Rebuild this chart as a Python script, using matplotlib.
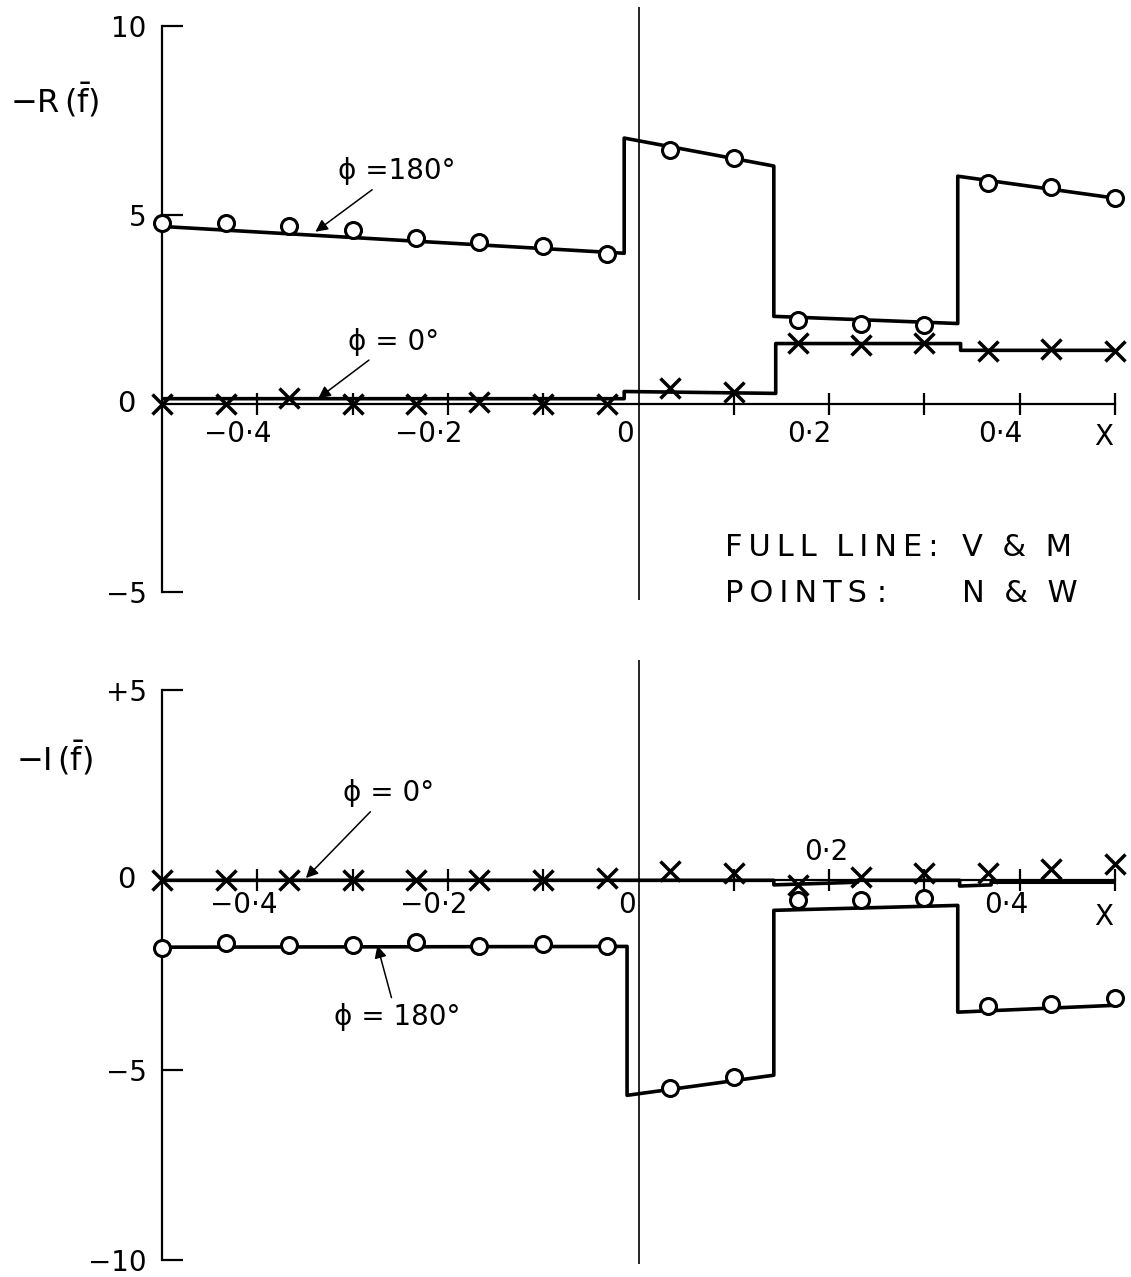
import matplotlib
matplotlib.use("Agg")
import matplotlib.pyplot as plt

plt.rcParams['font.family'] = ['DejaVu Sans']
plt.rcParams['mathtext.fontset'] = 'dejavusans'

# ---------------- data ----------------
x_pts = [-0.5, -0.433, -0.367, -0.3, -0.233, -0.167, -0.1, -0.033,
         0.033, 0.1, 0.167, 0.233, 0.3, 0.367, 0.433, 0.5]

# top panel: -R(f)
R180_pts = [4.77, 4.77, 4.69, 4.59, 4.38, 4.27, 4.16, 3.95,
            6.71, 6.50, 2.20, 2.10, 2.07, 5.84, 5.73, 5.44]
R0_pts = [0.0, 0.0, 0.15, 0.0, 0.0, 0.05, 0.0, 0.0,
          0.40, 0.30, 1.60, 1.55, 1.60, 1.40, 1.45, 1.40]
R180_line_x = [-0.5, -0.015, -0.015, 0.142, 0.142, 0.335, 0.335, 0.5]
R180_line_y = [4.69, 3.98, 7.03, 6.29, 2.31, 2.12, 6.02, 5.44]
R0_line_x = [-0.5, -0.015, -0.015, 0.144, 0.144, 0.338, 0.338, 0.5]
R0_line_y = [0.13, 0.13, 0.32, 0.27, 1.59, 1.59, 1.41, 1.41]

# bottom panel: -I(f)
I180_pts = [-1.79, -1.66, -1.71, -1.71, -1.63, -1.74, -1.68, -1.74,
            -5.47, -5.18, -0.53, -0.53, -0.47, -3.32, -3.26, -3.11]
I0_pts = [0.0, 0.0, 0.0, 0.0, 0.0, 0.0, 0.0, 0.05,
          0.24, 0.18, -0.13, 0.10, 0.18, 0.18, 0.29, 0.42]
I180_line_x = [-0.5, -0.012, -0.012, 0.142, 0.142, 0.335, 0.335, 0.5]
I180_line_y = [-1.76, -1.74, -5.66, -5.13, -0.79, -0.66, -3.47, -3.29]
I0_line_x = [-0.5, 0.142, 0.142, 0.23, 0.23, 0.337, 0.337, 0.37, 0.37, 0.5]
I0_line_y = [0.0, 0.0, -0.12, -0.05, 0.0, 0.0, -0.15, -0.12, -0.05, -0.05]

x_minor_ticks = [-0.4, -0.3, -0.2, -0.1, 0.1, 0.2, 0.3, 0.4, 0.5]
x_tick_labels = {-0.4: "\u22120\u00b74", -0.2: "\u22120\u00b72", 0.0: "0",
                 0.2: "0\u00b72", 0.4: "0\u00b74"}
top_yticks = [-5, 5, 10]
top_ylabels = ["\u22125", "5", "10"]
bot_yticks = [-10, -5, 5]
bot_ylabels = ["\u221210", "\u22125", "+5"]

# --------------- figure ---------------
W, H = 1131, 1277
fig = plt.figure(figsize=(W / 100, H / 100), dpi=100)
fig.patch.set_facecolor('white')

FS = 20
LW = 2.6
circ = dict(marker='o', markersize=11.5, markerfacecolor='white',
            markeredgecolor='black', markeredgewidth=2.2, linestyle='none',
            zorder=4, clip_on=False)
cross = dict(marker='x', markersize=14, markeredgecolor='black',
             markeredgewidth=2.5, linestyle='none', zorder=4, clip_on=False)
arrow = dict(arrowstyle='-|>', color='black', lw=1.1, mutation_scale=18,
             shrinkA=2, shrinkB=0)


def spaced(s):
    return "\u200a\u200a".join(s)


def setup(ax, ylim, ybounds, yticks, ylabels):
    ax.set_xlim(-0.5, 0.5)
    ax.set_ylim(*ylim)
    for s in ('top', 'right'):
        ax.spines[s].set_visible(False)
    ax.spines['left'].set_bounds(*ybounds)
    ax.spines['left'].set_linewidth(1.6)
    ax.spines['bottom'].set_position(('data', 0))
    ax.spines['bottom'].set_linewidth(1.6)
    ax.set_yticks(yticks)
    ax.set_yticklabels(ylabels, fontsize=FS)
    ax.tick_params(axis='y', direction='in', length=15, width=1.6, pad=11)
    ax.set_xticks(x_minor_ticks)
    ax.set_xticklabels([])
    ax.tick_params(axis='x', direction='inout', length=16, width=1.6)
    ax.axvline(0, color='black', lw=1.2, zorder=1)
    ax.patch.set_alpha(0)
    ax.annotate("0", xy=(-0.5, 0), xytext=(-26, 0), textcoords='offset points',
                ha='center', va='center', fontsize=FS + 1)


# top axes
ax1 = fig.add_axes([162 / W, 1 - 600 / H, 953 / W, 593 / H])
setup(ax1, (-5.2, 10.5), (-5, 10), top_yticks, top_ylabels)
ax1.plot(R180_line_x, R180_line_y, color='black', lw=LW, zorder=3)
ax1.plot(R0_line_x, R0_line_y, color='black', lw=LW, zorder=3)
ax1.plot(x_pts, R180_pts, **circ)
ax1.plot(x_pts, R0_pts, **cross)
for xv, lab in x_tick_labels.items():
    ax1.annotate(lab, xy=(xv, 0), xytext=(-14 if xv != 0 else -10, -12),
                 textcoords='offset points', ha='center', va='top', fontsize=FS)
ax1.annotate("X", xy=(0.5, 0), xytext=(-8, -14), textcoords='offset points',
             ha='center', va='top', fontsize=FS)
fig.text(10 / W, 1 - 100 / H, r"$-\mathrm{R}\,(\bar{\mathrm{f}})$", fontsize=FS + 3,
         ha='left', va='center')
ax1.annotate("\u03d5 =180\u00b0", xy=(-0.339, 4.55), xytext=(-0.315, 6.15),
             fontsize=FS, ha='left', va='center', arrowprops=arrow)
ax1.annotate("\u03d5 = 0\u00b0", xy=(-0.336, 0.14), xytext=(-0.305, 1.64),
             fontsize=FS, ha='left', va='center', arrowprops=arrow)
LFS = 22
fig.text(725 / W, 1 - 548 / H, spaced("FULL") + "  " + spaced("LINE:"),
         fontsize=LFS, ha='left', va='center')
fig.text(962 / W, 1 - 548 / H, "V  &  M", fontsize=LFS, ha='left', va='center')
fig.text(725 / W, 1 - 593 / H, spaced("POINTS") + " :",
         fontsize=LFS, ha='left', va='center')
fig.text(962 / W, 1 - 593 / H, "N  &  W", fontsize=LFS, ha='left', va='center')

# bottom axes
ax2 = fig.add_axes([162 / W, 1 - 1264 / H, 953 / W, 604 / H])
setup(ax2, (-10.1, 5.8), (-10, 5), bot_yticks, bot_ylabels)
ax2.plot(I180_line_x, I180_line_y, color='black', lw=LW, zorder=3)
ax2.plot(I0_line_x, I0_line_y, color='black', lw=LW, zorder=3)
ax2.plot(x_pts, I180_pts, **circ)
ax2.plot(x_pts, I0_pts, **cross)
for xv, lab in x_tick_labels.items():
    if xv == 0.2:
        ax2.annotate(lab, xy=(xv, 0), xytext=(-2, 10),
                     textcoords='offset points', ha='center', va='bottom', fontsize=FS)
    else:
        ax2.annotate(lab, xy=(xv, 0), xytext=(-10 if xv != 0 else -8, -8),
                     textcoords='offset points', ha='center', va='top', fontsize=FS)
ax2.annotate("X", xy=(0.5, 0), xytext=(-8, -16), textcoords='offset points',
             ha='center', va='top', fontsize=FS)
fig.text(16 / W, 1 - 758 / H, r"$-\mathrm{I}\,(\bar{\mathrm{f}})$", fontsize=FS + 3,
         ha='left', va='center')
ax2.annotate("\u03d5 = 0\u00b0", xy=(-0.349, 0.06), xytext=(-0.31, 2.3),
             fontsize=FS, ha='left', va='center', arrowprops=arrow)
ax2.annotate("\u03d5 = 180\u00b0", xy=(-0.274, -1.72), xytext=(-0.32, -3.6),
             fontsize=FS, ha='left', va='center', arrowprops=arrow)

fig.savefig("out.png", dpi=100, facecolor='white')
